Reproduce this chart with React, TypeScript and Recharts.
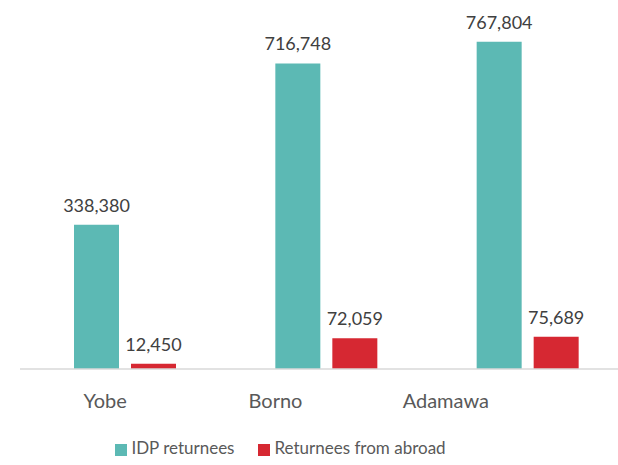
import { BarChart, Bar, XAxis, YAxis, Legend, LabelList } from "recharts";

const states = ["Yobe", "Borno", "Adamawa"];
const idpReturnees = [338380, 716748, 767804];
const abroadReturnees = [12450, 72059, 75689];

const data = states.map((s, i) => ({ state: s, idp: idpReturnees[i], abroad: abroadReturnees[i] }));

const FONT = "Lato, 'Open Sans', sans-serif";
const fmt = (v: any) => Number(v).toLocaleString("en-US");

export default function App() {
  return (
    <div style={{ position: "absolute", left: 0, top: 0, fontFamily: FONT }}>
      <BarChart
        width={618}
        height={465}
        data={data}
        margin={{ top: 28, right: 0, left: 20, bottom: 56 }}
        barSize={45}
        barGap={12}
      >
        <XAxis xAxisId="bars" dataKey="state" hide height={0} padding={{ left: 4, right: -10 }} />
        <XAxis
          xAxisId="labels"
          dataKey="state"
          height={40}
          padding={{ left: 0, right: 87 }}
          tickLine={false}
          axisLine={{ stroke: "#d9d9d9", strokeWidth: 1.5 }}
          tickMargin={19}
          tick={{ fill: "#595959", fontSize: 20, fontFamily: FONT }}
        />
        <YAxis hide domain={[0, 800000]} />
        <Legend
          verticalAlign="middle"
          layout="horizontal"
          iconType="square"
          iconSize={12}
          wrapperStyle={{ top: 437, left: 0, width: 585, fontSize: 17, fontFamily: FONT }}
          formatter={(v: string) => <span style={{ color: "#595959", marginRight: 14 }}>{v}</span>}
        />
        <Bar xAxisId="bars" dataKey="idp" name="IDP returnees" fill="#5cb9b4" isAnimationActive={false}>
          <LabelList dataKey="idp" position="top" offset={13} formatter={fmt} fill="#404040" fontSize={18} fontFamily={FONT} />
        </Bar>
        <Bar xAxisId="bars" dataKey="abroad" name="Returnees from abroad" fill="#d62832" isAnimationActive={false}>
          <LabelList dataKey="abroad" position="top" offset={13} formatter={fmt} fill="#404040" fontSize={18} fontFamily={FONT} />
        </Bar>
      </BarChart>
    </div>
  );
}
